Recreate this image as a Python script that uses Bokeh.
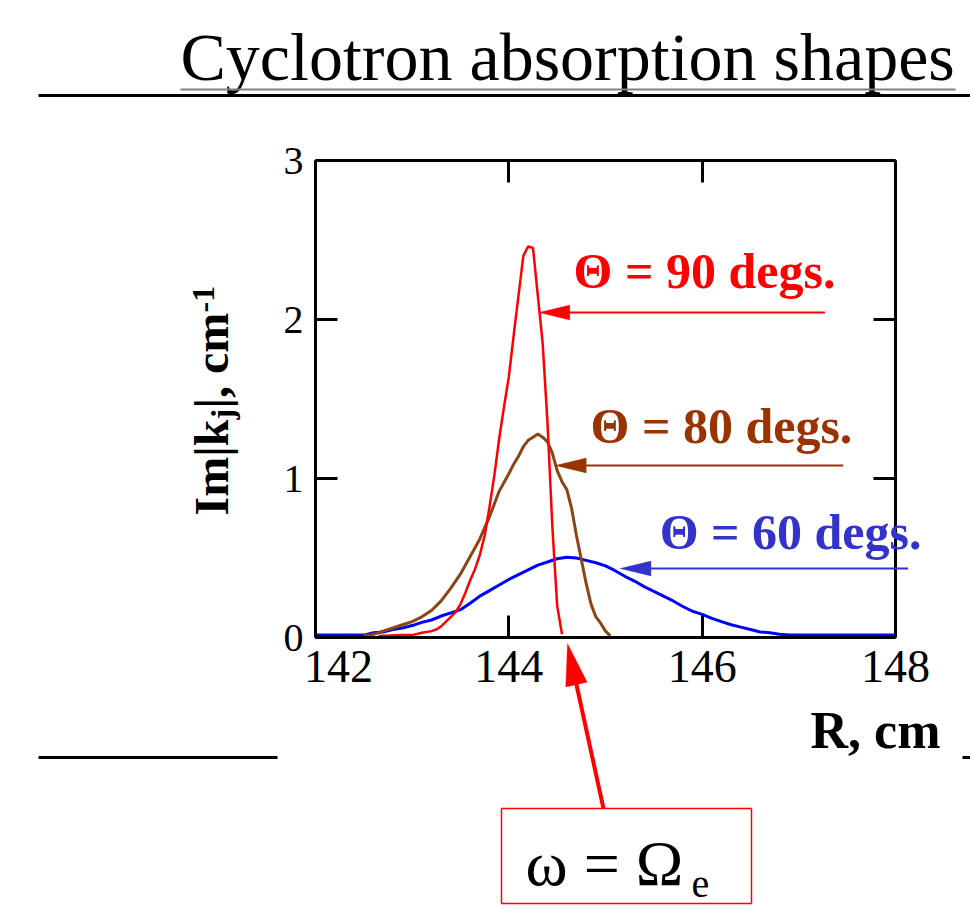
import math

from bokeh.embed import file_html
from bokeh.models import Arrow, FixedTicker, Label, LinearAxis, PolyAnnotation, Range1d
from bokeh.plotting import figure
from bokeh.resources import INLINE

# Absorption profiles Im|k_j| (cm^-1) against major radius R (cm)
r_90 = [142.65, 142.9, 143.0, 143.1, 143.2, 143.25, 143.3, 143.35, 143.4, 143.45,
        143.5, 143.55, 143.6, 143.65, 143.7, 143.75, 143.8, 143.85, 143.9, 143.95,
        144.0, 144.05, 144.1, 144.15, 144.2, 144.25, 144.3, 144.35, 144.4, 144.45,
        144.5, 144.55]
k_90 = [0.01, 0.015, 0.015, 0.03, 0.04, 0.05, 0.07, 0.10, 0.13, 0.16,
        0.21, 0.28, 0.36, 0.43, 0.52, 0.64, 0.82, 1.02, 1.25, 1.45,
        1.64, 1.90, 2.15, 2.40, 2.46, 2.45, 2.15, 1.85, 1.35, 0.70,
        0.20, 0.02]

r_80 = [142.5, 142.6, 142.7, 142.8, 142.9, 143.0, 143.1, 143.2, 143.3, 143.4,
        143.5, 143.6, 143.7, 143.8, 143.9, 144.0, 144.05, 144.1, 144.15, 144.2,
        144.25, 144.3, 144.35, 144.4, 144.45, 144.5, 144.55, 144.6, 144.65, 144.7,
        144.75, 144.8, 144.85, 144.9, 144.95, 145.0, 145.05]
k_80 = [0.01, 0.02, 0.04, 0.06, 0.08, 0.10, 0.13, 0.17, 0.23, 0.31,
        0.40, 0.51, 0.62, 0.76, 0.92, 1.03, 1.09, 1.14, 1.20, 1.24,
        1.26, 1.28, 1.26, 1.23, 1.16, 1.05, 0.98, 0.93, 0.81, 0.64,
        0.49, 0.34, 0.21, 0.13, 0.09, 0.04, 0.01]

r_60 = [142.0, 142.5, 142.6, 142.7, 142.8, 142.9, 143.0, 143.1, 143.2, 143.3,
        143.4, 143.5, 143.6, 143.7, 143.8, 143.9, 144.0, 144.1, 144.2, 144.3,
        144.4, 144.5, 144.6, 144.7, 144.8, 144.9, 145.0, 145.1, 145.2, 145.3,
        145.4, 145.5, 145.6, 145.7, 145.8, 145.9, 146.0, 146.1, 146.2, 146.3,
        146.4, 146.5, 146.6, 146.7, 146.8, 146.9, 148.0]
k_60 = [0.015, 0.015, 0.03, 0.035, 0.05, 0.06, 0.075, 0.095, 0.11, 0.135,
        0.155, 0.175, 0.215, 0.26, 0.295, 0.33, 0.365, 0.395, 0.425, 0.455,
        0.475, 0.495, 0.505, 0.50, 0.485, 0.47, 0.45, 0.42, 0.385, 0.355,
        0.32, 0.29, 0.26, 0.23, 0.195, 0.165, 0.145, 0.12, 0.10, 0.08,
        0.065, 0.05, 0.035, 0.03, 0.02, 0.015, 0.015]

x_ticks = [142, 144, 146, 148]
y_ticks = [0, 1, 2, 3]

angle_labels = ["\u0398 = 90 degs.", "\u0398 = 80 degs.", "\u0398 = 60 degs."]
curve_colors = ["#ff0000", "#8b4513", "#0000ff"]
label_colors = ["#ff0000", "#993300", "#3333cc"]

# canvas size and where the axis box sits on it (px)
W, H = 970, 921
FL, FR, FT, FB = 315, 895, 160, 637
X0, X1 = x_ticks[0], x_ticks[-1]
Y0, Y1 = y_ticks[0], y_ticks[-1]
KX = (FR - FL) / (X1 - X0)   # px per cm
KY = (FB - FT) / (Y1 - Y0)   # px per cm^-1

SERIF = "Liberation Serif"
BASE_SHIFT = 0.35            # baseline correction, fraction of the font size

# the frame covers the whole canvas; the axes are pinned around the data box
p = figure(width=W, height=H,
           x_range=Range1d(X0 - FL / KX, X1 + (W - FR) / KX),
           y_range=Range1d(Y0 - (H - FB) / KY, Y1 + FT / KY),
           output_backend="svg", toolbar_location=None,
           x_axis_location=None, y_axis_location=None, min_border=0)
p.grid.visible = False
p.outline_line_color = None
p.background_fill_color = "white"
p.border_fill_color = "white"

bottom = LinearAxis(fixed_location=Y0, bounds=(X0, X1),
                    ticker=FixedTicker(ticks=x_ticks, minor_ticks=[]))
top = LinearAxis(fixed_location=Y1, bounds=(X0, X1),
                 ticker=FixedTicker(ticks=x_ticks, minor_ticks=[]))
left = LinearAxis(fixed_location=X0, bounds=(Y0, Y1),
                  ticker=FixedTicker(ticks=y_ticks, minor_ticks=[]))
right = LinearAxis(fixed_location=X1, bounds=(Y0, Y1),
                   ticker=FixedTicker(ticks=y_ticks, minor_ticks=[]))
p.add_layout(bottom, "below")
p.add_layout(top, "above")
p.add_layout(left, "left")
p.add_layout(right, "right")

for ax in (bottom, top, left, right):
    ax.axis_line_width = 3
    ax.axis_line_color = "black"
    ax.major_tick_line_width = 3
    ax.major_tick_line_color = "black"
    ax.major_tick_in = 22
    ax.major_tick_out = 0
    ax.minor_tick_line_color = None
    ax.major_label_text_font = SERIF
    ax.major_label_text_color = "black"

bottom.major_label_text_font_size = "46px"
bottom.major_label_standoff = 3
# first R label sits a little to the right, clear of the "0"
bottom.major_label_overrides = {x_ticks[0]: "\u00a0\u00a0\u00a0\u00a0" + str(x_ticks[0])}
left.major_label_text_font_size = "40px"
left.major_label_standoff = 12
top.major_label_text_color = None
right.major_label_text_color = None

# curves: 60, 80, then 90 degrees on top
p.line(r_60, k_60, line_color=curve_colors[2], line_width=3)
p.line(r_80, k_80, line_color=curve_colors[1], line_width=3)
p.line(r_90, k_90, line_color=curve_colors[0], line_width=2.5)


def dx(px):
    """canvas x (px) -> R"""
    return X0 + (px - FL) / KX


def dy(py):
    """canvas y (px, from top) -> Im|k|"""
    return Y0 + (FB - py) / KY


def seg(x0, y0, x1, y1, color, width):
    p.add_layout(Arrow(start=None, end=None, x_start=x0, y_start=y0, x_end=x1, y_end=y1,
                       line_color=color, line_width=width))


def seg_px(x0, y0, x1, y1, color, width):
    seg(dx(x0), dy(y0), dx(x1), dy(y1), color, width)


def text_px(x, y, s, size, color="black", bold=False, align="left", vertical=False):
    """text with its baseline start at canvas point (x, y)"""
    if vertical:
        x -= BASE_SHIFT * size
    else:
        y -= BASE_SHIFT * size
    p.add_layout(Label(x=dx(x), y=dy(y), text=s,
                       text_font=SERIF, text_font_size=f"{size}px",
                       text_font_style="bold" if bold else "normal",
                       text_color=color, text_align=align,
                       text_baseline="alphabetic",
                       angle=math.pi / 2 if vertical else 0.0))


def text_data(x, y, s, size, **kw):
    text_px(FL + (x - X0) * KX, FB - (y - Y0) * KY, s, size, **kw)


def head(tip_px, tail_px, length, half_w, color):
    tx, ty = tip_px
    ux, uy = tx - tail_px[0], ty - tail_px[1]
    n = math.hypot(ux, uy)
    ux, uy = ux / n, uy / n
    bx, by = tx - ux * length, ty - uy * length
    xs = [tx, bx - uy * half_w, bx + uy * half_w]
    ys = [ty, by + ux * half_w, by - ux * half_w]
    p.add_layout(PolyAnnotation(xs=[dx(v) for v in xs], ys=[dy(v) for v in ys],
                                fill_color=color, fill_alpha=1.0,
                                line_color=color, line_width=1))
    return bx, by


# pointer arrows onto each curve (data coordinates of tip, tail and label)
tips = [(144.31, 2.044), (144.48, 1.082), (145.15, 0.434)]
tails_r = [147.27, 147.46, 148.13]
label_pos = [(144.67, 2.195), (144.845, 1.22), (145.56, 0.553)]
for (xt, yt), xr, (lx, ly), s, c in zip(tips, tails_r, label_pos, angle_labels, label_colors):
    tip_px = (FL + (xt - X0) * KX, FB - (yt - Y0) * KY)
    tail_px = (FL + (xr - X0) * KX, tip_px[1])
    bx, by = head(tip_px, tail_px, 31, 7.5, c)
    seg(dx(bx - 3), yt, xr, yt, c, 2)
    text_data(lx, ly, s, 50, color=c, bold=True)

# title with its rules
text_px(180, 80, "Cyclotron absorption shapes", 68)
seg_px(180, 89, 955, 89, "#808080", 2)
seg_px(38, 95, 970, 95, "black", 3)

# lower rules
seg_px(38, 757, 277, 757, "black", 3)
seg_px(962, 757, 970, 757, "black", 3)

# axis titles
text_px(940, 748, "R, cm", 52, bold=True, align="right")
ylab_x = 228
text_px(ylab_x, 515, "Im|k", 48, bold=True, vertical=True)
text_px(ylab_x + 5, 419, "j", 32, bold=True, vertical=True)
text_px(ylab_x, 408, "|, cm", 48, bold=True, vertical=True)
text_px(ylab_x - 14, 312, "-1", 32, bold=True, vertical=True)

# resonance marker: omega = Omega_e, arrow up to the axis
tail = (603, 808)
tip = (567, 643)
bx, by = head(tip, tail, 42, 11, "#ff0000")
seg_px(tail[0], tail[1], bx + (tip[0] - tail[0]) * 0.02, by + (tip[1] - tail[1]) * 0.02,
       "#ff0000", 4)

bl, br, bt, bb = 501, 751, 808, 903
for (a, b, c2, d) in [(bl, bt, br, bt), (br, bt, br, bb), (br, bb, bl, bb), (bl, bb, bl, bt)]:
    seg_px(a, b, c2, d, "#ff0000", 1.5)
text_px(525, 885, "\u03c9 = \u03a9", 64)
text_px(691, 897, "e", 40)

open("out.html", "w").write(file_html(p, INLINE))
